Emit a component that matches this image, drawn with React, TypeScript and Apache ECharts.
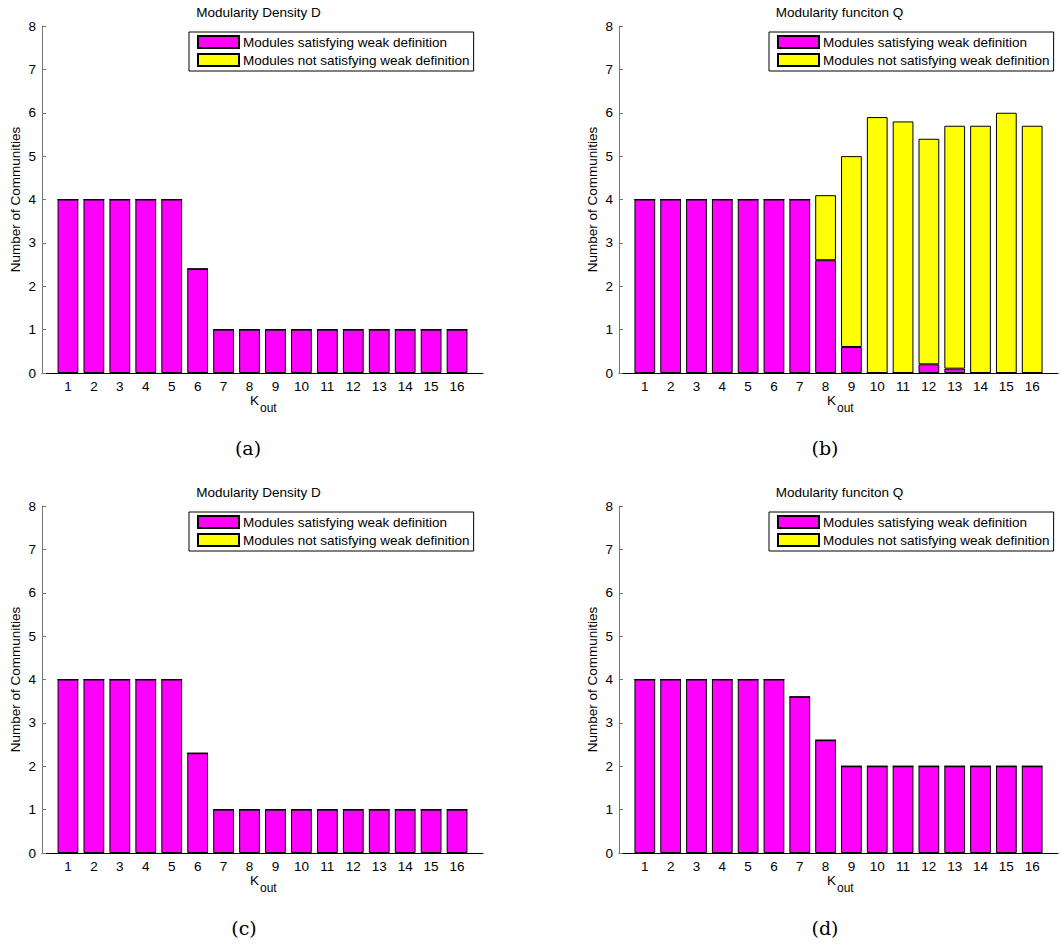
import React, { useEffect, useRef } from "react";
import * as echarts from "echarts";

const kout = [1, 2, 3, 4, 5, 6, 7, 8, 9, 10, 11, 12, 13, 14, 15, 16];
const yTicks = [0, 1, 2, 3, 4, 5, 6, 7, 8];

const aSat = [4, 4, 4, 4, 4, 2.4, 1, 1, 1, 1, 1, 1, 1, 1, 1, 1];
const aNot = [0, 0, 0, 0, 0, 0, 0, 0, 0, 0, 0, 0, 0, 0, 0, 0];
const bSat = [4, 4, 4, 4, 4, 4, 4, 2.6, 0.6, 0, 0, 0.2, 0.1, 0, 0, 0];
const bNot = [0, 0, 0, 0, 0, 0, 0, 1.5, 4.4, 5.9, 5.8, 5.2, 5.6, 5.7, 6.0, 5.7];
const cSat = [4, 4, 4, 4, 4, 2.3, 1, 1, 1, 1, 1, 1, 1, 1, 1, 1];
const cNot = [0, 0, 0, 0, 0, 0, 0, 0, 0, 0, 0, 0, 0, 0, 0, 0];
const dSat = [4, 4, 4, 4, 4, 4, 3.6, 2.6, 2, 2, 2, 2, 2, 2, 2, 2];
const dNot = [0, 0, 0, 0, 0, 0, 0, 0, 0, 0, 0, 0, 0, 0, 0, 0];

const titles = ["Modularity Density D", "Modularity funciton Q", "Modularity Density D", "Modularity funciton Q"];
const captions = ["(a)", "(b)", "(c)", "(d)"];
const satName = "Modules satisfying weak definition";
const notName = "Modules not satisfying weak definition";

const panels = [
  { sat: aSat, not: aNot },
  { sat: bSat, not: bNot },
  { sat: cSat, not: cNot },
  { sat: dSat, not: dNot },
];

const FONT = "'Liberation Sans', Arial, Helvetica, sans-serif";
const SERIF = "'DejaVu Serif', 'Liberation Serif', serif";
const FS = 13.5;

export default function App() {
  const ref = useRef<HTMLDivElement>(null);
  useEffect(() => {
    document.body.style.margin = "0";
    const chart = echarts.init(ref.current!, undefined, { renderer: "svg" });
    const lefts = [42, 619, 42, 619];
    const tops = [26, 26, 506, 506];
    const W = 441;
    const H = 347;
    const barW = (W / 17) * 0.8;
    // axis runs from 0 to 17: pad the category list with an empty slot at each end
    const cats = ["", ...kout.map(String), ""];

    const grid: any[] = [];
    const xAxis: any[] = [];
    const yAxis: any[] = [];
    const series: any[] = [];
    const legend: any[] = [];
    const graphic: any[] = [];

    panels.forEach((p, i) => {
      const L = lefts[i];
      const T = tops[i];
      grid.push({ left: L, top: T, width: W, height: H, containLabel: false });
      xAxis.push({
        type: "category",
        gridIndex: i,
        data: cats,
        boundaryGap: false,
        splitLine: { show: false },
        axisTick: { show: false },
        axisLine: { show: true, onZero: false, lineStyle: { color: "#000", width: 1 } },
        axisLabel: { interval: 0, margin: 6, fontSize: FS, fontFamily: FONT, color: "#000" },
      });
      yAxis.push({
        type: "value",
        gridIndex: i,
        min: yTicks[0],
        max: yTicks[yTicks.length - 1],
        interval: 1,
        splitLine: { show: false },
        axisLine: { show: true, lineStyle: { color: "#777", width: 1 } },
        axisTick: { show: true, inside: true, length: 4, lineStyle: { color: "#777" } },
        axisLabel: { margin: 6, fontSize: FS, fontFamily: FONT, color: "#000" },
        name: "Number of Communities",
        nameLocation: "middle",
        nameGap: 20,
        nameTextStyle: { fontSize: FS, fontFamily: FONT, color: "#000" },
      });
      series.push({
        type: "bar",
        name: satName,
        xAxisIndex: i,
        yAxisIndex: i,
        stack: "s" + i,
        barWidth: barW,
        data: [null, ...p.sat, null],
        itemStyle: { color: "#ff00ff", borderColor: "#000", borderWidth: 1 },
      });
      series.push({
        type: "bar",
        name: notName,
        xAxisIndex: i,
        yAxisIndex: i,
        stack: "s" + i,
        barWidth: barW,
        data: [null, ...p.not, null],
        itemStyle: { color: "#ffff00", borderColor: "#000", borderWidth: 1 },
      });
      legend.push({
        data: [satName, notName],
        orient: "vertical",
        left: L + 147 + (i % 2 === 1 ? 3 : 0),
        top: T + 6,
        padding: [3, 4, 4, 8],
        icon: "rect",
        itemWidth: 41,
        itemHeight: 12,
        itemGap: 4,
        borderColor: "#000",
        borderWidth: 1,
        backgroundColor: "#fff",
        selectedMode: false,
        textStyle: { fontSize: FS, fontFamily: FONT, color: "#000", padding: [0, 0, 0, -1] },
      });
      const cx = L + W / 2;
      graphic.push({
        type: "text",
        x: cx + (i % 2 === 1 ? 0 : -4),
        y: T - 14,
        style: { text: titles[i], fontSize: FS, fontFamily: FONT, fill: "#000", align: "center", verticalAlign: "middle" },
      });
      graphic.push({
        type: "text",
        x: L + 208,
        y: T + H + 27,
        style: { text: "K", fontSize: FS, fontFamily: FONT, fill: "#000", verticalAlign: "middle" },
      });
      graphic.push({
        type: "text",
        x: L + 218,
        y: T + H + 35,
        style: { text: "out", fontSize: 12, fontFamily: FONT, fill: "#000", verticalAlign: "middle" },
      });
      graphic.push({
        type: "text",
        x: L + (i === 2 ? 202 : 206),
        y: T + H + 75,
        style: { text: captions[i], fontSize: 19, fontFamily: SERIF, fill: "#000", align: "center", verticalAlign: "middle" },
      });
    });

    chart.setOption({
      animation: false,
      backgroundColor: "#fff",
      grid,
      xAxis,
      yAxis,
      series,
      legend,
      graphic,
    });
    return () => chart.dispose();
  }, []);
  return <div ref={ref} style={{ width: 1061, height: 946 }} />;
}
